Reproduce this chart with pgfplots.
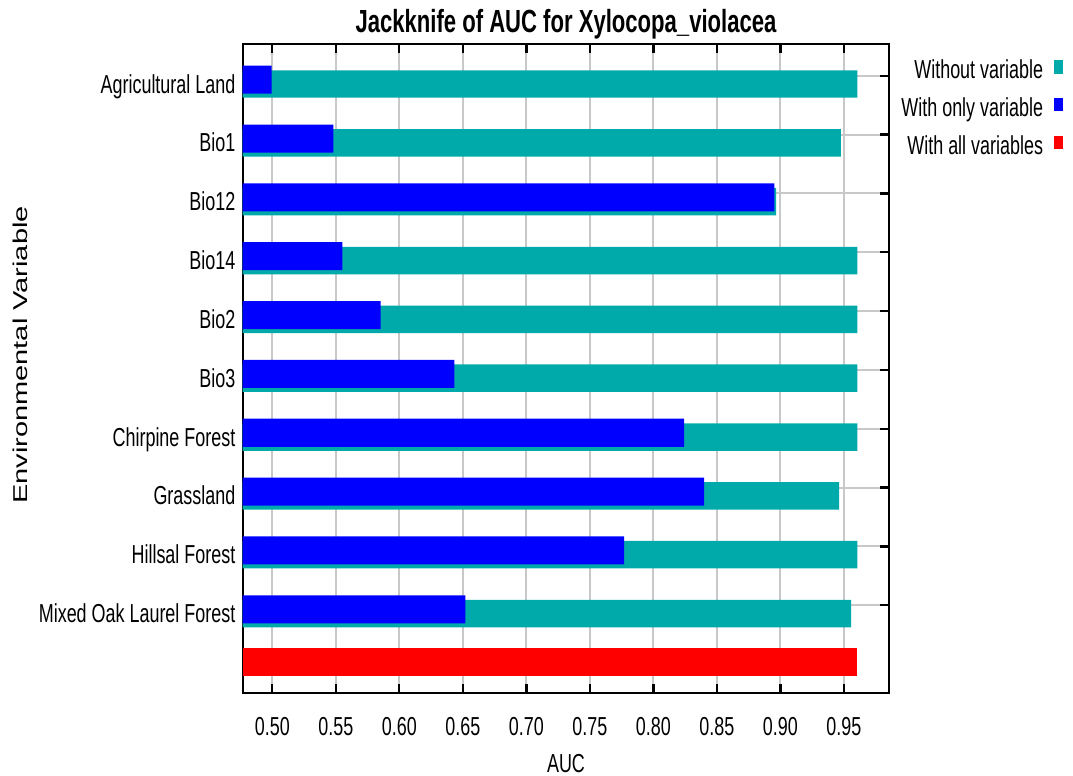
\documentclass[border=0pt]{standalone}
\usepackage{fontspec}
\setmainfont{Liberation Sans}[FakeStretch=0.69]
\newfontfamily\ylabfont{Liberation Sans}[FakeStretch=1.45]
\usepackage{pgfplots}
\pgfplotsset{compat=1.18}
\definecolor{withoutvar}{RGB}{0,170,170}
\definecolor{onlyvar}{RGB}{0,0,255}
\definecolor{allvar}{RGB}{255,0,0}
\definecolor{gridgray}{RGB}{200,200,200}
\newcommand{\lblfont}{\fontsize{13}{15}\selectfont}

\begin{document}
\begin{tikzpicture}
% whole picture, 1px = 0.5pt, origin at lower left corner of the plot box
\path[use as bounding box] (-121.35pt,-41.35pt) rectangle (415.15pt,346.65pt);
\begin{axis}[%
at={(0pt,0pt)}, anchor=south west,
width=323.3pt, height=324.65pt,
scale only axis,
xmin=0.4767, xmax=0.9858,
ymin=-0.428, ymax=10.607,
axis line style={line width=1pt, black},
tick align=inside,
xtick pos=both,
xticklabel pos=lower,
ytick pos=right,
yticklabel pos=left,
major tick length=4.5pt,
every tick/.style={black, line width=1.2pt},
xmajorgrids, ymajorgrids,
grid style={line width=1pt, gridgray},
xtick={0.50,0.55,0.60,0.65,0.70,0.75,0.80,0.85,0.90,0.95},
xticklabels={0.50,0.55,0.60,0.65,0.70,0.75,0.80,0.85,0.90,0.95},
ytick={1.068,2.068,3.068,4.068,5.068,6.068,7.068,8.068,9.068,10.068},
yticklabels={Mixed Oak Laurel Forest,Hillsal Forest,Grassland,Chirpine Forest,Bio3,Bio2,Bio14,Bio12,Bio1,Agricultural Land},
xticklabel style={anchor=base, inner sep=0pt, yshift=-21.15pt, font=\lblfont},
yticklabel style={anchor=base east, inner sep=0pt, xshift=-3.5pt, yshift=-8.65pt, font=\lblfont},
title={Jackknife of AUC for Xylocopa\_violacea},
title style={at={(0.5,1)}, anchor=base, inner sep=0pt, yshift=-0.5pt, font=\bfseries\fontsize{16}{18}\selectfont},
xlabel={AUC},
xlabel style={at={(0.5,0)}, anchor=base, inner sep=0pt, yshift=-39.6pt, font=\lblfont},
ylabel={Environmental Variable},
ylabel style={at={(-0.3444,0.521)}, anchor=center, inner sep=0pt, font=\ylabfont\fontsize{10}{12}\selectfont},
legend style={at={(1.2682,0.9756)}, anchor=north east, draw=none, fill=none,
  inner sep=0pt, outer sep=0pt, row sep=9.6pt, column sep=5.5pt, font=\lblfont,
  nodes={inner sep=0pt, text height=9.3pt, text depth=0pt}},
legend cell align=right,
legend plot pos=right,
legend image code/.code={\fill[#1, draw=none] (0pt,-2.2pt) rectangle (4.35pt,4.5pt);}
]
% Without variable
\addplot [xbar, bar width=0.467, bar shift=0pt, fill=withoutvar, draw=none]
coordinates{
(0.9557,0.927)
(0.9606,1.927)
(0.9462,2.927)
(0.9606,3.927)
(0.9606,4.927)
(0.9606,5.927)
(0.9606,6.927)
(0.8966,7.927)
(0.9476,8.927)
(0.9606,9.927)
};
\addlegendentry{Without variable}
% With only variable
\addplot [xbar, bar width=0.476, bar shift=0pt, fill=onlyvar, draw=none]
coordinates{
(0.6520,1)
(0.7770,2)
(0.8400,3)
(0.8242,4)
(0.6433,5)
(0.5853,6)
(0.5551,7)
(0.8953,8)
(0.5480,9)
(0.4995,10)
};
\addlegendentry{With only variable}
% With all variables
\addplot [xbar, bar width=0.471, bar shift=0pt, fill=allvar, draw=none]
coordinates{
(0.9604,0.101)
};
\addlegendentry{With all variables}
\end{axis}
\end{tikzpicture}
\end{document}
